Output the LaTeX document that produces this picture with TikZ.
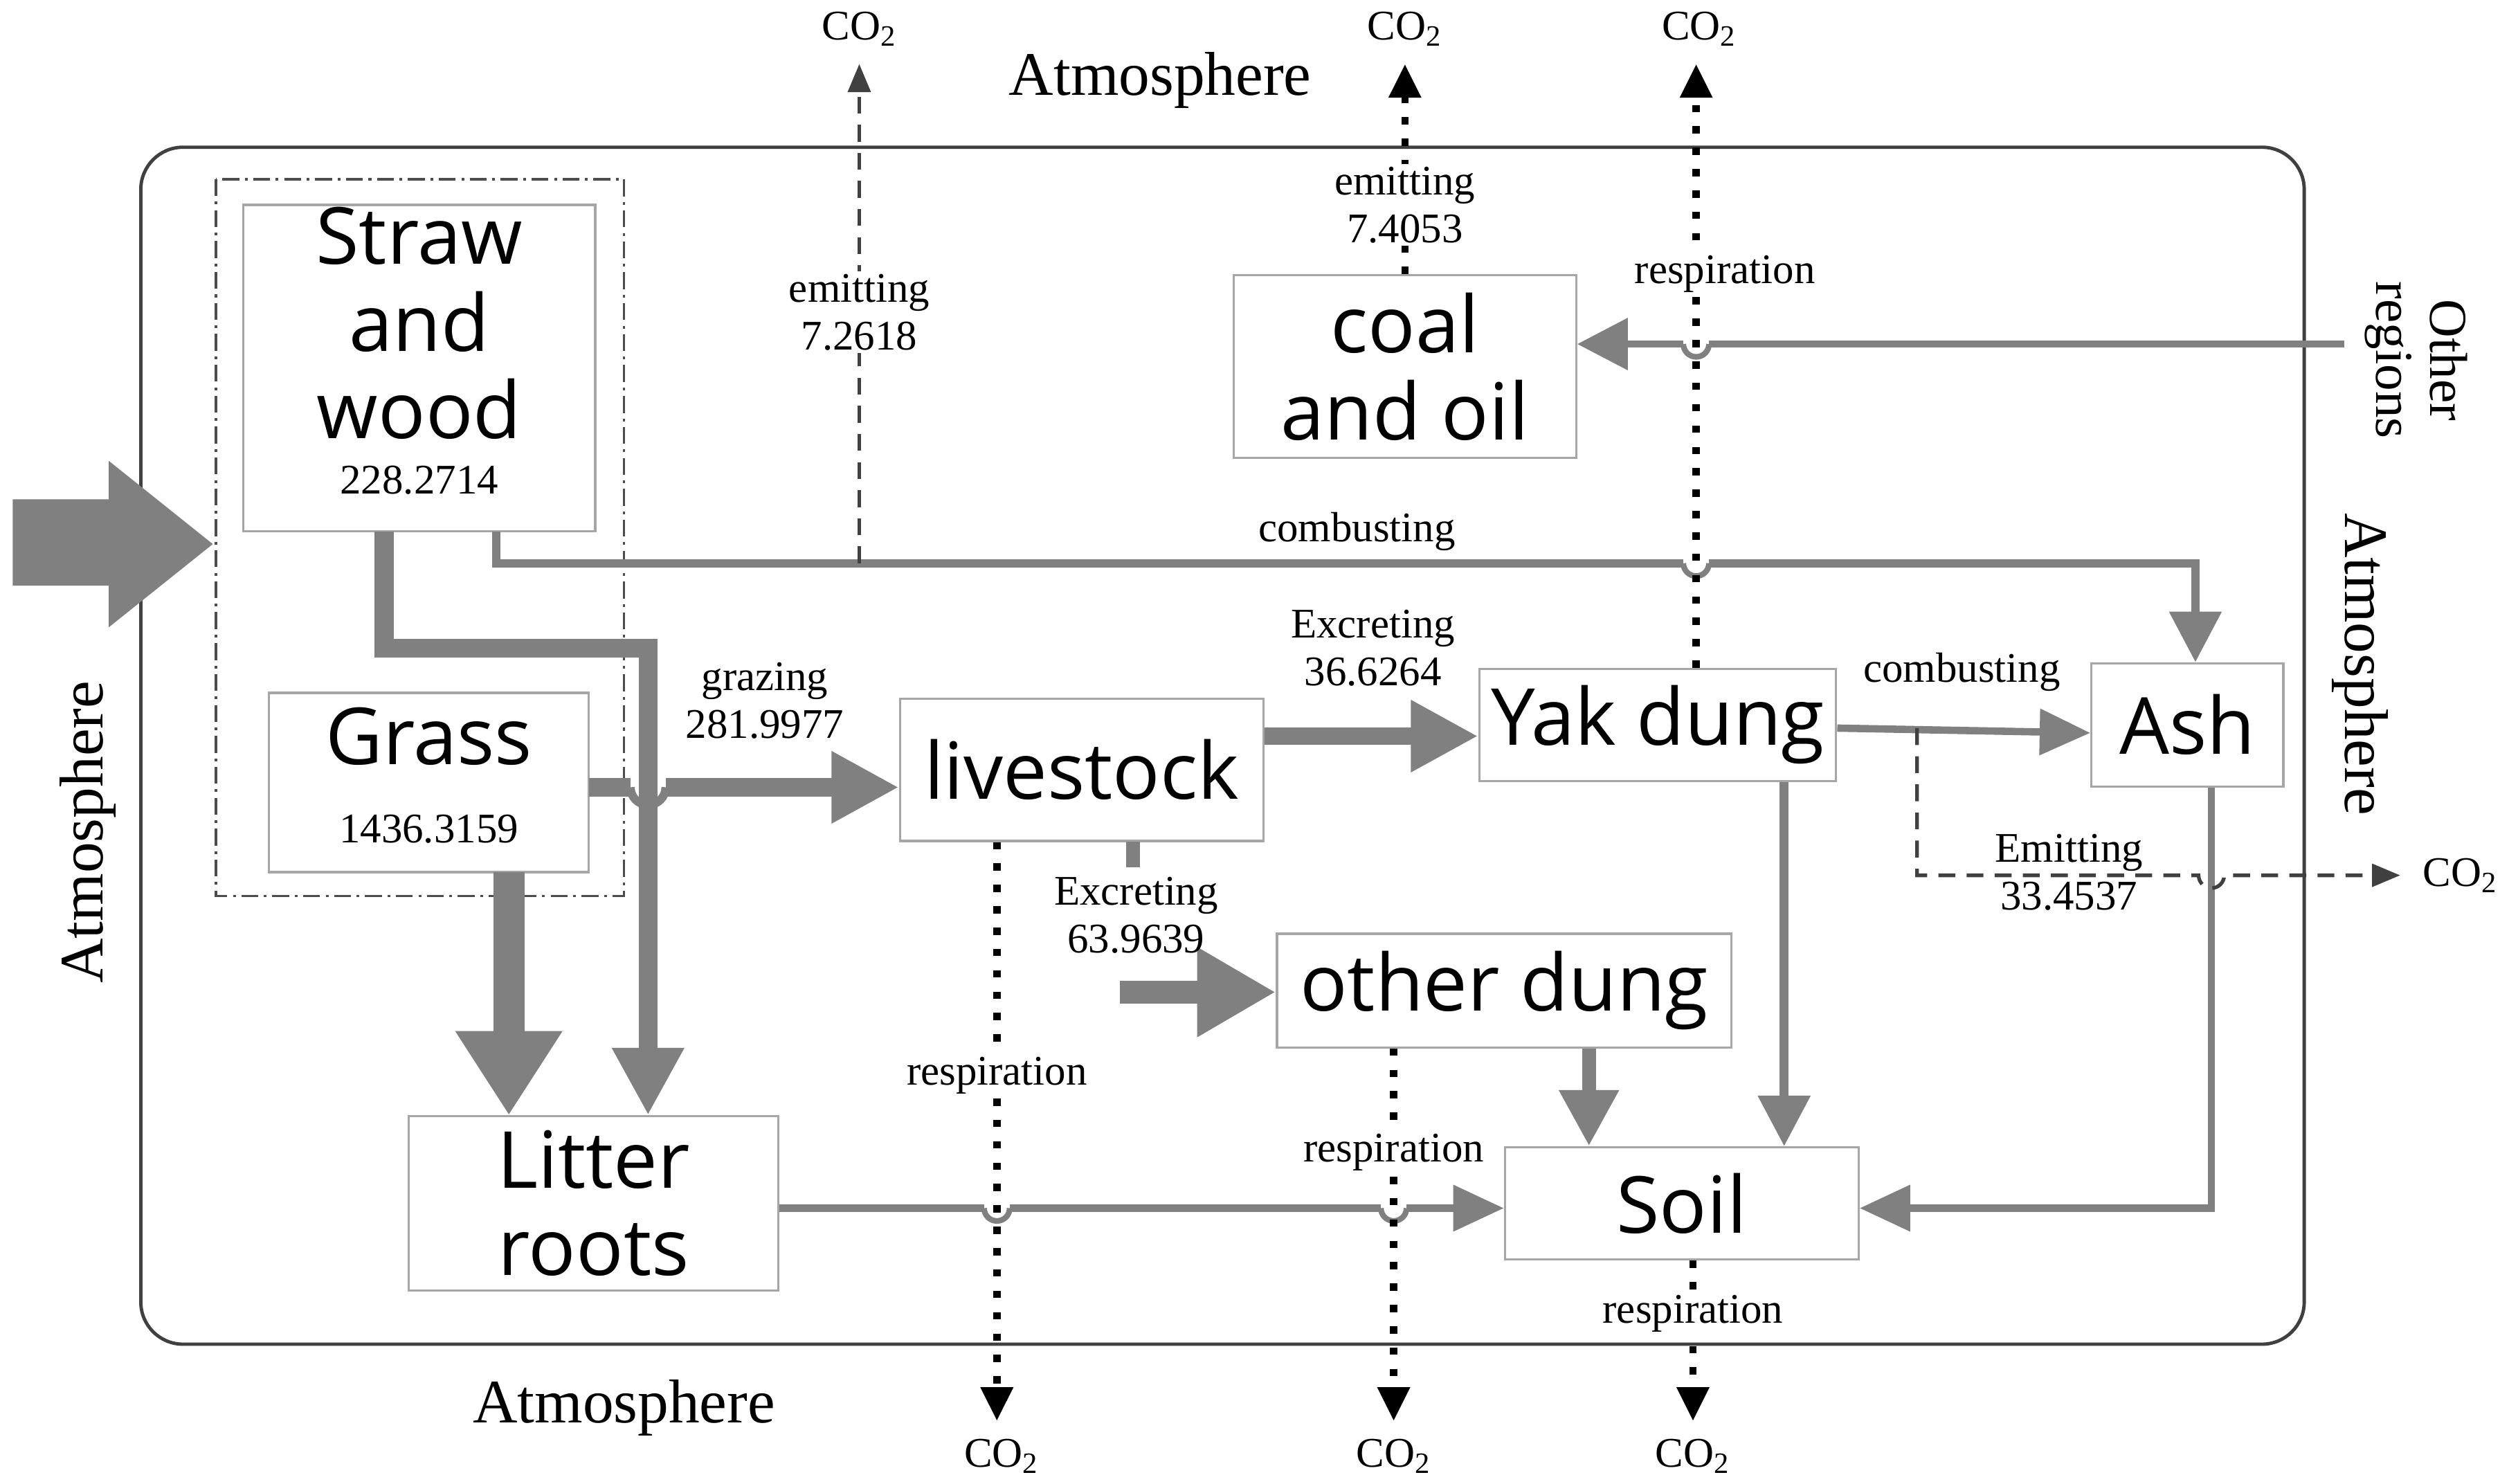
\documentclass[tikz,border=0pt]{standalone}
\usepackage{fontspec}
\setmainfont{Liberation Serif}
\newfontfamily\bigsans{Open Sans}
\usetikzlibrary{arrows.meta}
\definecolor{ag}{HTML}{808080}
\begin{document}
\begin{tikzpicture}[x=0.02cm,y=-0.02cm,
  box/.style={draw=black!35,fill=white,line width=0.8pt,inner sep=0pt},
  big/.style={font=\bigsans\fontsize{28}{31}\selectfont,align=center},
  sm/.style={font=\fontsize{15}{17}\selectfont,align=center,inner sep=1pt},
  atm/.style={font=\fontsize{22}{24}\selectfont},
  flow/.style={draw=ag,line width=#1},
  dots/.style={line width=2.6pt,dash pattern=on 2.6pt off 5pt,-{Triangle[length=12pt,width=11pt]}},
  dsh/.style={line width=1.3pt,dash pattern=on 6pt off 4pt,draw=black!75,-{Triangle[length=10pt,width=8pt]}},
  hop/.style={draw=ag,line width=2pt}]
\useasboundingbox (0,0) rectangle (1568,927);
% frames
\draw[line width=1.2pt,draw=black!75,rounded corners=15pt] (88,92) rectangle (1440,840);
\draw[line width=0.9pt,dash pattern=on 6pt off 2pt on 1pt off 2pt,draw=black!70] (135,112) rectangle (390,560);
% boxes
\node[box,minimum width=4.4cm,minimum height=4.08cm] (straw) at (262,230) {};
\node[big] (strawt) at (262,202) {Straw\\and\\wood};
\node[sm] (strawn) at (262,300) {228.2714};
\node[box,minimum width=4cm,minimum height=2.24cm] (grass) at (268,489) {};
\node[big] (grasst) at (268,460) {Grass};
\node[sm] (grassn) at (268,518) {1436.3159};
\node[box,minimum width=4.54cm,minimum height=1.78cm,big] (lv) at (676,481) {livestock};
\node[box,minimum width=4.46cm,minimum height=1.4cm,big] (yak) at (1036,453) {Yak dung};
\node[box,minimum width=2.4cm,minimum height=1.54cm,big] (ash) at (1367,453) {Ash};
\node[box,minimum width=4.28cm,minimum height=2.28cm,big] (coal) at (878,229) {coal\\and oil};
\node[box,minimum width=5.68cm,minimum height=1.42cm,big] (od) at (940,619) {other dung};
\node[box,minimum width=4.42cm,minimum height=1.4cm,big] (soil) at (1051,752) {Soil};
\node[box,minimum width=4.62cm,minimum height=2.18cm,big] (lit) at (371,752) {Litter\\roots};
% big input arrow
\fill[ag] (8,312) -- (68,312) -- (68,288) -- (133,340) -- (68,392) -- (68,366) -- (8,366) -- cycle;
% thick flows
\draw[flow=6.8pt,-{Triangle[length=24pt,width=24pt]}] (240,332) -- (240,405) -- (405,405) -- (405,697);
\draw[flow=11pt,-{Triangle[length=30pt,width=36pt]}] (318,545) -- (318,697);
\draw[flow=6.8pt] (368,492) -- (394,492);
\draw[flow=6.8pt,-{Triangle[length=24pt,width=24pt]}] (416,492) -- (lv.west |- 0,492);
\draw[hop,line width=3pt] (394,492) arc (180:0:11);
\draw[flow=6pt,-{Triangle[length=24pt,width=24pt]}] (lv.east |- 0,460) -- (yak.west |- 0,460);
\draw[flow=5pt] (708,526) -- (708,542);
\draw[flow=8pt,-{Triangle[length=28pt,width=30pt]}] (700,620) -- (od.west |- 0,620);
\draw[flow=3pt] (310,332) -- (310,352) -- (1052,352);
\draw[flow=3pt,-{Triangle[length=18pt,width=18pt]}] (1068,352) -- (1372,352) -- (ash.north -| 1372,0);
\draw[hop] (1052,352) arc (180:0:8);
\draw[flow=2.6pt] (1465,215) -- (1068,215);
\draw[flow=2.6pt,-{Triangle[length=18pt,width=18pt]}] (1052,215) -- (coal.east |- 0,215);
\draw[hop] (1052,215) arc (180:0:8);
\draw[flow=2.6pt,-{Triangle[length=18pt,width=16pt]}] (yak.east |- 0,455) -- (ash.west |- 0,458);
\draw[flow=3.2pt,-{Triangle[length=18pt,width=18pt]}] (yak.south -| 1115,0) -- (soil.north -| 1115,0);
\draw[flow=5pt,-{Triangle[length=20pt,width=20pt]}] (od.south -| 993,0) -- (soil.north -| 993,0);
\draw[flow=2.6pt,-{Triangle[length=18pt,width=16pt]}] (ash.south -| 1382,0) -- (1382,755) -- (soil.east |- 0,755);
\draw[flow=2.6pt] (lit.east |- 0,755) -- (615,755);
\draw[flow=2.6pt] (631,755) -- (863,755);
\draw[flow=2.6pt,-{Triangle[length=18pt,width=16pt]}] (879,755) -- (soil.west |- 0,755);
\draw[hop] (615,755) arc (180:0:8);
\draw[hop] (863,755) arc (180:0:8);
% CO2 arrows
\coordinate (c1) at (537,40); \coordinate (c2) at (878,40); \coordinate (c3) at (1060,40);
\coordinate (c4) at (623,888); \coordinate (c5) at (871,888); \coordinate (c6) at (1058,888);
\coordinate (c7) at (1500,547);
\draw[dsh] (537,352) -- (c1);
\draw[dots] (coal.north) -- (c2);
\draw[dots] (yak.north -| 1060,0) -- (c3);
\draw[dots] (lv.south -| 623,0) -- (c4);
\draw[dots] (od.south -| 871,0) -- (c5);
\draw[dots] (soil.south -| 1058,0) -- (c6);
\draw[dsh] (1198,455) -- (1198,547) -- (1374,547) arc (180:0:8) -- (c7);
\node[sm] (co1) at (537,18) {CO\textsubscript{2}};
\node[sm] (co2) at (878,18) {CO\textsubscript{2}};
\node[sm] (co3) at (1062,18) {CO\textsubscript{2}};
\node[sm] (co4) at (626,910) {CO\textsubscript{2}};
\node[sm] (co5) at (871,910) {CO\textsubscript{2}};
\node[sm] (co6) at (1058,910) {CO\textsubscript{2}};
\node[sm,anchor=west] (co7) at (1512,547) {CO\textsubscript{2}};
% labels
\node[sm,fill=white] (l1) at (537,195) {emitting\\7.2618};
\node[sm,fill=white] (l2) at (878,128) {emitting\\7.4053};
\node[sm,fill=white] (l3) at (1078,171) {respiration};
\node[sm,fill=white] (l4) at (623,672) {respiration};
\node[sm,fill=white] (l5) at (871,720) {respiration};
\node[sm,fill=white] (l6) at (1058,821) {respiration};
\node[sm] (l7) at (478,438) {grazing\\281.9977};
\node[sm] (l8) at (858,405) {Excreting\\36.6264};
\node[sm] (l9) at (710,572) {Excreting\\63.9639};
\node[sm] (l10) at (848,332) {combusting};
\node[sm] (l11) at (1226,420) {combusting};
\node[sm] (l12) at (1293,545) {Emitting\\33.4537};
\node[atm] (a1) at (725,50) {Atmosphere};
\node[atm] (a2) at (390,880) {Atmosphere};
\node[atm,rotate=90] (a3) at (55,520) {Atmosphere};
\node[atm,rotate=-90] (a4) at (1475,415) {Atmosphere};
\node[atm,rotate=-90,align=center,font=\fontsize{19}{19}\selectfont] (a5) at (1510,225) {Other\\regions};
\end{tikzpicture}
\end{document}
